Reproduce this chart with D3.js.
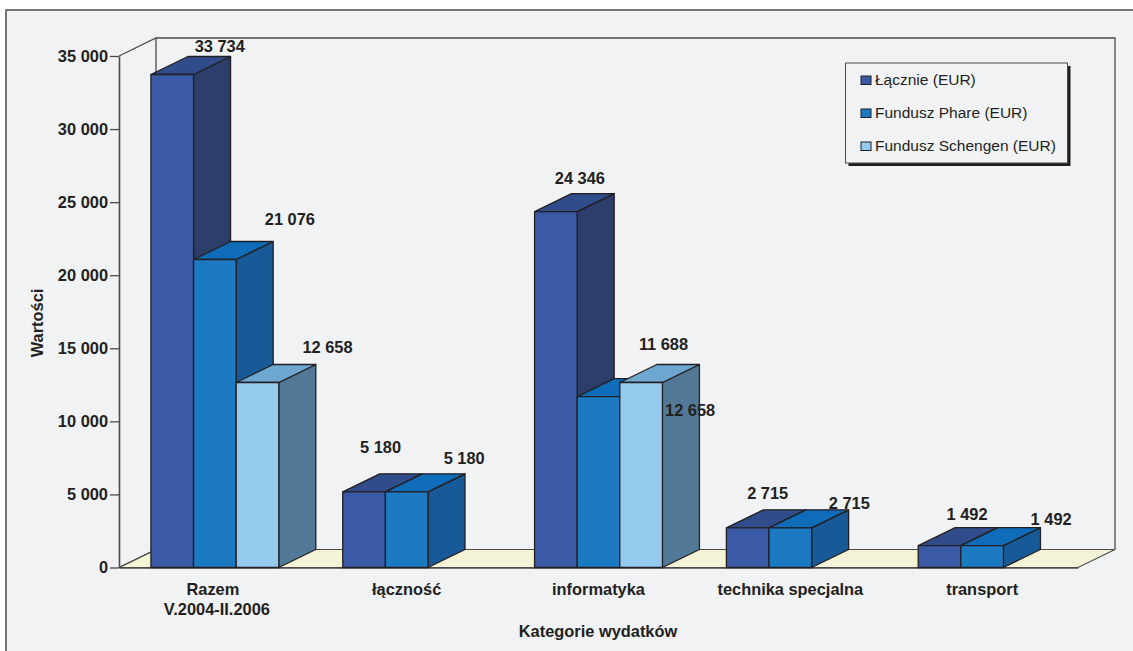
<!DOCTYPE html>
<html lang="pl">
<head>
<meta charset="utf-8">
<script src="https://cdn.jsdelivr.net/npm/d3@7"></script>
<style>
html,body{margin:0;padding:0;background:#fff;overflow:hidden}
svg{display:block}
text{font-family:"Liberation Sans",Arial,sans-serif;fill:#231f20}
.b{font-weight:bold;font-size:16.4px}
.axis .domain{stroke:#4a4a4a;stroke-width:1.6;fill:none}
.axis .tick line{stroke:#4a4a4a;stroke-width:1.3}
</style>
</head>
<body>
<svg id="chart" width="1133" height="651"></svg>
<script>
// Wydatki wg kategorii, w EUR
const categories = ["Razem|V.2004-II.2006", "łączność", "informatyka", "technika specjalna", "transport"];
const seriesNames = ["Łącznie (EUR)", "Fundusz Phare (EUR)", "Fundusz Schengen (EUR)"];
const lacznie = [33734, 5180, 24346, 2715, 1492];
const phare = [21076, 5180, 11688, 2715, 1492];
const schengen = [12658, null, 12658, null, null];
const yTicks = [0, 5000, 10000, 15000, 20000, 25000, 30000, 35000];

// Przesunięcia etykiet względem tylnej krawędzi wierzchu słupka
const labelShift = [
  [[10.5, -4.7], [38, -16.7], [33, -11.7]],
  [[-20.5, -21.2], [20.5, -10.2]],
  [[-13, -9.7], [28, -28.7], [12, 51.3]],
  [[-17, -11.2], [22, -0.7]],
  [[-9.5, -7.7], [32, -2.2]]
];
// Pierwsza kategoria ma wiersze przesunięte względem siebie
const lineShift = [-2, 2];

const fronts = ["#3a5aa5", "#1c7ac2", "#95caef"];
const tops = ["#304c8a", "#0e6cb8", "#6ea8d0"];
const sides = ["#2e3e6a", "#185a98", "#527a98"];
const ink = "#231f20";

const left = 119, right = 1078, base = 567.5, peak = 56;
const depthX = 37, depthY = -18;

const svg = d3.select("#chart");
const fmt = v => d3.format(",")(v).replace(/,/g, " ");

const y = d3.scaleLinear().domain([0, 35000]).range([base, peak]);
const x0 = d3.scaleBand().domain(categories).range([left, right])
  .paddingInner(0.3335).paddingOuter(0.1665);
const x1 = d3.scaleBand().domain(d3.range(3)).range([0, x0.bandwidth()]);

// Tło panelu z ramką
svg.append("rect").attr("x", 6).attr("y", 10).attr("width", 1140).attr("height", 660)
  .attr("fill", "#f1f2f4").attr("stroke", "#4a4a4a").attr("stroke-width", 1.5);

// Tylna ściana i podłoga
const pt = (a, b) => a + "," + b;
svg.append("polygon")
  .attr("points", [pt(left, base), pt(left + depthX, base + depthY), pt(right + depthX, base + depthY), pt(right, base)].join(" "))
  .attr("fill", "#f5f3d5").attr("stroke", "#4a4a4a").attr("stroke-width", 1.1);
svg.append("path")
  .attr("d", `M${left},${peak}L${left + depthX},${peak + depthY}H${right + depthX}V${base + depthY}M${left + depthX},${peak + depthY}V${base + depthY}M${left},${base}L${left + depthX},${base + depthY}`)
  .attr("fill", "none").attr("stroke", "#4a4a4a").attr("stroke-width", 1.3);

// Oś wartości
const yAxis = svg.append("g").attr("class", "axis").attr("transform", `translate(${left},0)`)
  .call(d3.axisLeft(y).tickValues(yTicks).tickFormat(fmt).tickSize(9).tickSizeOuter(0).tickPadding(2));
yAxis.selectAll("text").attr("class", "b").attr("font-size", null).attr("font-family", null);

// Oś kategorii z etykietami dwuwierszowymi
const xAxis = svg.append("g").attr("class", "axis").attr("transform", `translate(0,${base})`)
  .call(d3.axisBottom(x0).tickSize(0).tickSizeOuter(0).tickFormat(""));
xAxis.select(".domain").attr("stroke-width", 1.1);
xAxis.selectAll(".tick").each(function (c) {
  const t = d3.select(this).select("text").attr("class", "b").attr("font-size", null)
    .attr("font-family", null).attr("y", 0).attr("dy", null).attr("text-anchor", "middle");
  const lines = c.split("|");
  lines.forEach((line, i) => t.append("tspan")
    .attr("x", lines.length > 1 ? lineShift[i] : 0).attr("y", 27.5 + i * 20).text(line));
});

// Słupki 3D rysowane od lewej do prawej
const rows = [lacznie, phare, schengen];
const bars = [];
categories.forEach((c, ci) => rows.forEach((row, si) => {
  if (row[ci] != null) bars.push({ c, ci, si, v: row[ci] });
}));

const barG = svg.append("g").selectAll("g").data(bars).join("g")
  .attr("stroke", ink).attr("stroke-width", 1.3).attr("stroke-linejoin", "round");
barG.each(function (d) {
  const g = d3.select(this);
  const a = x0(d.c) + x1(d.si), b = a + x1.bandwidth(), t = y(d.v);
  g.append("polygon").attr("fill", sides[d.si])
    .attr("points", [pt(b, t), pt(b + depthX, t + depthY), pt(b + depthX, base + depthY), pt(b, base)].join(" "));
  g.append("polygon").attr("fill", tops[d.si])
    .attr("points", [pt(a, t), pt(a + depthX, t + depthY), pt(b + depthX, t + depthY), pt(b, t)].join(" "));
  g.append("rect").attr("fill", fronts[d.si])
    .attr("x", a).attr("y", t).attr("width", x1.bandwidth()).attr("height", base - t);
});

// Etykiety wartości
svg.append("g").selectAll("text").data(bars).join("text")
  .attr("class", "b").attr("text-anchor", "middle")
  .attr("x", d => x0(d.c) + x1(d.si) + x1.bandwidth() / 2 + depthX + labelShift[d.ci][d.si][0])
  .attr("y", d => y(d.v) + depthY + labelShift[d.ci][d.si][1])
  .text(d => fmt(d.v));

// Tytuły osi
svg.append("text").attr("class", "b").attr("text-anchor", "middle")
  .attr("transform", "translate(42.5,323) rotate(-90)").text("Wartości");
svg.append("text").attr("class", "b").attr("text-anchor", "middle")
  .attr("x", 598).attr("y", 637).text("Kategorie wydatków");

// Legenda
const legend = svg.append("g").attr("transform", "translate(845.5,63)");
legend.append("rect").attr("x", 3).attr("y", 3).attr("width", 222).attr("height", 100).attr("fill", "#231f20");
legend.append("rect").attr("width", 222).attr("height", 100).attr("fill", "#f1f2f4")
  .attr("stroke", "#4a4a4a").attr("stroke-width", 1);
const item = legend.selectAll(".item").data(seriesNames).join("g").attr("class", "item")
  .attr("transform", (d, i) => `translate(15.5,${17 + i * 33})`);
item.append("rect").attr("y", -4).attr("width", 10).attr("height", 8.5)
  .attr("fill", (d, i) => fronts[i]).attr("stroke", ink).attr("stroke-width", 1);
item.append("text").attr("x", 14).attr("y", 5).attr("font-size", "15.5px").text(d => d);
</script>
</body>
</html>
